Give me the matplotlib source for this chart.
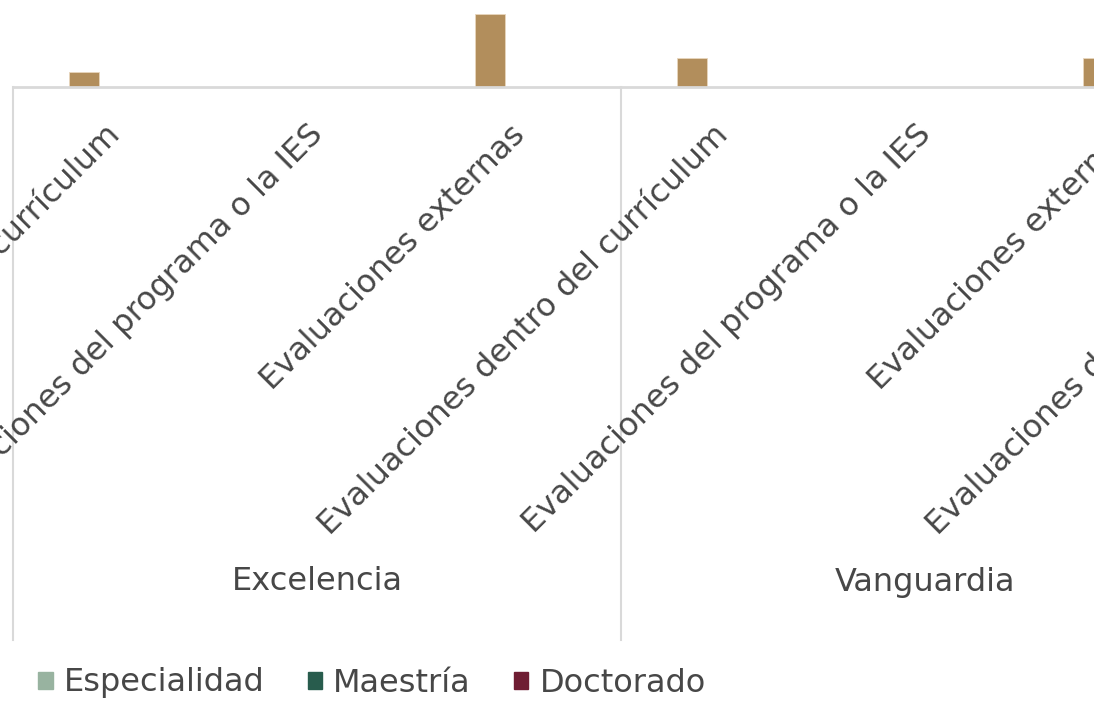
import matplotlib
matplotlib.use("Agg")
import matplotlib.pyplot as plt
from matplotlib.patches import Patch
from matplotlib.transforms import blended_transform_factory

# datos (categorías visibles, las últimas parcialmente)
grupos = ["Excelencia", "Vanguardia"]
categorias = [
    "Evaluaciones dentro del currículum",
    "Evaluaciones del programa o la IES",
    "Evaluaciones externas",
    "Evaluaciones dentro del currículum",
    "Evaluaciones del programa o la IES",
    "Evaluaciones externas",
    "Evaluaciones dentro del currículum",
]
serie_oro = [1, 0, 5, 2, 0, 2, 0]
especialidad = [0, 0, 0, 0, 0, 0, 0]
maestria = [0, 0, 0, 0, 0, 0, 0]
doctorado = [0, 0, 0, 0, 0, 0, 0]

series = [("Licenciatura", serie_oro, "#b28e5c"),
          ("Especialidad", especialidad, "#98b3a0"),
          ("Maestría", maestria, "#285c4d"),
          ("Doctorado", doctorado, "#6f1d33")]

texto = "#474747"
gris = "#d9d9d9"
fs = 23

fig = plt.figure(figsize=(10.94, 7.03), dpi=100)
ax = fig.add_axes([0, 1 - 87 / 703, 1, 87 / 703])

ancho = 0.148
x = list(range(len(categorias)))
for k, (nombre, vals, color) in enumerate(series):
    pos = [i + (k - 1) * ancho for i in x]
    vals_dib = [v if v > 0 else float("nan") for v in vals]
    ax.bar(pos, vals_dib, width=ancho, color=color, edgecolor="#e8d6bd", linewidth=0.6)

ax.set_xlim(-0.564, 4.834)
ax.set_ylim(0, 5.96)
ax.axis("off")

# eje horizontal y separadores de grupo
ax.plot([-0.5, 6.5], [0, 0], color=gris, lw=2, clip_on=False, zorder=3)
tr = blended_transform_factory(ax.transData, fig.transFigure)
for b in [-0.5, 2.5, 5.5]:
    ax.plot([b, b], [1 - 87 / 703, 1 - 640 / 703], color=gris, lw=1.5,
            transform=tr, clip_on=False)

for i, c in enumerate(categorias):
    ax.text(i + 0.005, 1 - 130 / 703, c, transform=tr, rotation=45,
            rotation_mode="anchor", ha="right", va="center",
            fontsize=fs, color=texto)

for g, nombre in enumerate(grupos):
    ax.text(g * 3 + 1, 1 - 582 / 703, nombre, transform=tr, ha="center",
            va="center", fontsize=fs, color=texto)

handles = [Patch(color=c, label=n) for n, v, c in series[1:]]
fig.legend(handles=handles, loc="center left", bbox_to_anchor=(0.035, 1 - 683 / 703),
           ncol=3, frameon=False, fontsize=fs, labelcolor=texto,
           handlelength=0.45, handleheight=0.45, handletextpad=0.35,
           columnspacing=1.35, borderaxespad=0, borderpad=0)

fig.savefig("out.png", dpi=100)
